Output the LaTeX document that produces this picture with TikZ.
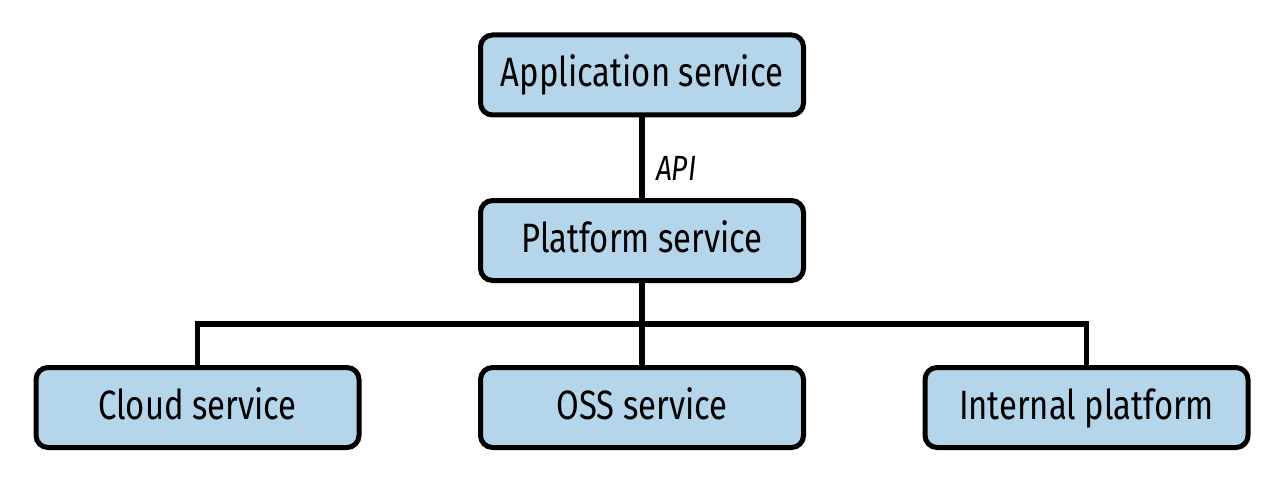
\documentclass[tikz,border=0pt]{standalone}
\usepackage{fontspec}
\setmainfont{Fira Sans}[FakeStretch=0.8]
\definecolor{boxfill}{HTML}{B4D5EA}
\begin{document}
\begin{tikzpicture}[x=1pt,y=-1pt,
  svc/.style={draw=black, line width=5pt, fill=boxfill, rounded corners=12pt,
    minimum width=323pt, minimum height=80pt, inner sep=0pt, outer sep=0pt,
    text height=30pt, text depth=6pt,
    font=\fontsize{41}{45}\selectfont},
  conn/.style={line width=5.5pt, draw=black}]
\useasboundingbox (0,0) rectangle (1284,481);
\node[svc] (app) at (642,75) {Application service};
\node[svc] (plat) at (642,240.5) {Platform service};
\node[svc] (cloud) at (197.5,407.5) {Cloud service};
\node[svc] (oss) at (642,407.5) {OSS service};
\node[svc] (int) at (1086.5,407.5) {Internal platform};
\coordinate (bus) at (642,324);
\draw[conn] (app.south) -- node[pos=0.62, anchor=west, xshift=8pt, font=\fontsize{35}{38}\selectfont\itshape] (api) {API} (plat.north);
\draw[conn] (plat.south) -- (bus);
\draw[conn] (cloud.north) |- (bus) -| (int.north);
\draw[conn] (bus) -- (oss.north);
\end{tikzpicture}
\end{document}
